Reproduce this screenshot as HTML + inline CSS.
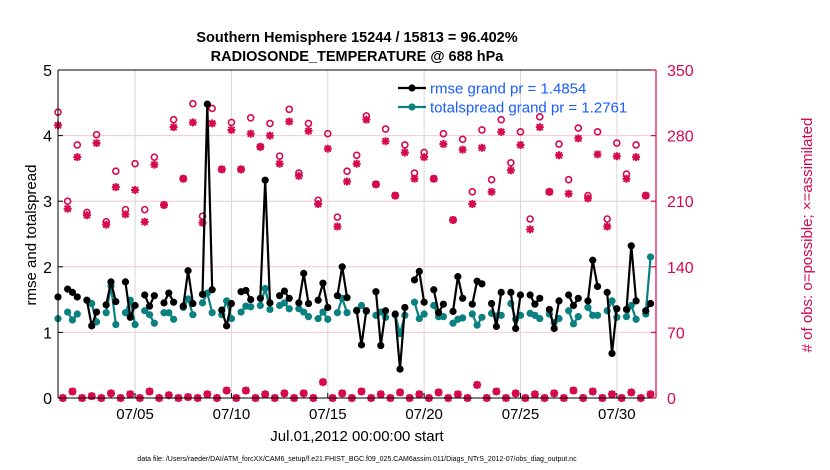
<!DOCTYPE html>
<html><head><meta charset="utf-8"><style>
body{margin:0;background:#fff;}
svg{display:block;font-family:"Liberation Sans",Arial,sans-serif;}
</style></head><body>
<svg id="chart" width="830" height="470" viewBox="0 0 830 470">
<rect x="0" y="0" width="830" height="470" fill="#fff"/>
<text x="357" y="42" text-anchor="middle" font-size="14.5" font-weight="bold">Southern Hemisphere 15244 / 15813 = 96.402%</text>
<text x="357" y="61" text-anchor="middle" font-size="14.5" font-weight="bold">RADIOSONDE_TEMPERATURE @ 688 hPa</text>
<g id="grid"></g>
<g id="marks"></g>
<g id="axes"></g>
<text transform="translate(36,235) rotate(-90)" text-anchor="middle" font-size="15">rmse and totalspread</text>
<text transform="translate(812,235) rotate(-90)" text-anchor="middle" font-size="15" fill="#d6084f"># of obs: o=possible; ×=assimilated</text>
<text x="357" y="441" text-anchor="middle" font-size="15">Jul.01,2012 00:00:00 start</text>
<text x="357" y="461" text-anchor="middle" font-size="7">data file: /Users/raeder/DAI/ATM_forcXX/CAM6_setup/f.e21.FHIST_BGC.f09_025.CAM6assim.011/Diags_NTrS_2012-07/obs_diag_output.nc</text>
<g id="legend"></g>
</svg>
<script>
// ---- data ----
const xTickLabels = ["07/05","07/10","07/15","07/20","07/25","07/30"];
const xTickDays = [4,9,14,19,24,29];
const yLeftTicks = [0,1,2,3,4,5];
const yRightTicks = [0,70,140,210,280,350];
const rmse = [1.54,null,1.66,1.61,1.54,null,1.49,1.10,1.31,null,1.42,1.77,1.47,null,1.77,1.23,1.41,null,1.57,1.40,1.56,null,1.45,1.60,1.46,null,1.40,1.94,1.44,null,1.58,4.48,1.65,null,1.34,1.10,1.44,null,1.62,1.64,1.50,null,1.52,3.32,1.45,null,1.56,1.63,1.52,null,1.45,1.90,1.44,null,1.49,1.75,1.38,null,1.56,2.00,1.53,null,1.33,0.81,1.33,null,1.62,0.80,1.33,null,1.28,0.44,1.38,null,1.80,1.93,1.46,null,1.65,1.30,1.43,null,1.32,1.85,1.52,null,1.43,1.78,1.74,null,1.44,1.09,1.61,null,1.61,1.06,1.57,null,1.57,1.43,1.52,null,1.35,1.06,1.48,null,1.57,1.41,1.52,null,1.48,2.10,1.70,null,1.61,0.68,1.36,null,1.35,2.32,1.48,null,1.33,1.44];
const spread = [1.21,null,1.31,1.19,1.28,null,1.49,1.44,1.16,null,1.30,1.71,1.12,null,1.30,1.49,1.12,null,1.33,1.27,1.14,null,1.30,1.30,1.20,null,1.38,1.51,1.27,null,1.45,1.60,1.30,null,1.27,1.48,1.21,null,1.31,1.40,1.39,null,1.41,1.67,1.35,null,1.41,1.45,1.36,null,1.36,1.31,1.24,null,1.21,1.31,1.20,null,1.30,1.52,1.30,null,1.34,1.41,1.32,null,1.26,1.31,1.23,null,1.27,0.98,1.26,null,1.46,1.21,1.28,null,1.41,1.24,1.24,null,1.14,1.20,1.22,null,1.28,1.11,1.23,null,1.29,1.25,1.26,null,1.44,1.20,1.26,null,1.29,1.26,1.21,null,1.28,1.15,1.21,null,1.33,1.13,1.24,null,1.38,1.26,1.26,null,1.33,1.48,1.23,null,1.24,1.41,1.20,null,1.28,2.15];
const possibleMain = [305,210,270,198,281,188,242,201,250,201,257,206,297,234,314,194,309,244,294,244,299,268,293,258,308,240,293,211,282,193,242,259,301,228,287,216,270,240,262,234,282,190,276,220,286,233,297,251,284,191,300,220,271,233,288,216,284,191,272,239,270,216];
const assimMain = [291,202,257,195,272,185,225,196,222,188,249,206,289,234,294,187,293,244,286,244,282,268,280,250,295,237,285,207,266,183,231,250,297,228,274,216,262,234,257,234,271,190,265,207,267,220,284,243,270,180,289,220,259,218,277,213,260,183,258,234,257,216];
const lowCounts = [0,7,0,2,0,5,0,4,0,7,0,3,0,1,0,4,0,8,0,8,0,4,0,5,0,5,0,17,0,5,0,7,0,4,0,6,0,4,0,6,0,4,0,14,0,7,0,5,0,4,0,5,0,8,0,7,0,4,0,6,0,4];

// ---- scales ----
const L=58, R=656, T=70, B=398;
const pxPerDay=19.27;
const xDay = d => L + d*pxPerDay;
const xBin = j => xDay(j*0.25);
const yL = v => B - v/5*(B-T);
const yR = v => B - v/350*(B-T);
const NS="http://www.w3.org/2000/svg";
function mk(tag, attrs, parent){const e=document.createElementNS(NS,tag);for(const k in attrs)e.setAttribute(k,attrs[k]);parent.appendChild(e);return e;}
const grid=document.getElementById('grid'), marks=document.getElementById('marks'), axes=document.getElementById('axes'), legend=document.getElementById('legend');
const RED="#d6084f", TEAL="#0a8080";

xTickDays.forEach((d,i)=>{
  const g=mk('line',{x1:xDay(d),x2:xDay(d),y1:T,y2:B,stroke:"#d8d8d8","stroke-width":1},grid);
  
  
});
yRightTicks.forEach(v=>{
  if(v===0||v===350)return;
  const g=mk('line',{x1:L,x2:R,y1:yR(v),y2:yR(v),stroke:"#f0c8d6","stroke-width":1},grid);
  
  
});

const possible=[], assim=[];
for(let k=0;k<possibleMain.length;k++){possible.push(possibleMain[k]);assim.push(assimMain[k]);possible.push(lowCounts[k]);assim.push(lowCounts[k]);}

possible.forEach((v,j)=>{
  const c=mk('circle',{cx:xBin(j),cy:yR(v),r:3,fill:"none",stroke:RED,"stroke-width":1.6},marks);
  
  
});
assim.forEach((v,j)=>{
  const x=xBin(j), y=yR(v), s=4;
  const p=mk('path',{d:`M${x-s},${y}H${x+s}M${x},${y-s}V${y+s}M${x-3},${y-3}L${x+3},${y+3}M${x-3},${y+3}L${x+3},${y-3}`,stroke:RED,"stroke-width":2,fill:"none"},marks);
  
  
});

function series(arr,color,name){
  let d="";let pen=false;
  arr.forEach((v,j)=>{ if(v===null){pen=false;return;} d+=(pen?"L":"M")+xBin(j).toFixed(1)+","+yL(v).toFixed(1); pen=true;});
  const p=mk('path',{d:d,stroke:color,"stroke-width":2.2,fill:"none","stroke-linejoin":"round"},marks);
  
  
  arr.forEach((v,j)=>{ if(v===null)return;
    const c=mk('circle',{cx:xBin(j),cy:yL(v),r:3.6,fill:color},marks);
    
    
  });
}
series(spread,TEAL,'totalspread');
series(rmse,"#000",'rmse');

mk('line',{x1:L,x2:R,y1:T,y2:T,stroke:"#000","stroke-width":1},axes);
mk('line',{x1:L,x2:R,y1:B,y2:B,stroke:"#000","stroke-width":1},axes);
mk('line',{x1:L,x2:L,y1:T,y2:B,stroke:"#000","stroke-width":1},axes);
mk('line',{x1:R,x2:R,y1:T,y2:B,stroke:RED,"stroke-width":1.2},axes);
yLeftTicks.forEach(v=>{
  mk('line',{x1:L,x2:L+5,y1:yL(v),y2:yL(v),stroke:"#000"},axes);
  const t=mk('text',{x:L-6,y:yL(v)+6,"text-anchor":"end","font-size":16},axes);
  t.textContent=v;
  
  
});
yRightTicks.forEach(v=>{
  mk('line',{x1:R-5,x2:R,y1:yR(v),y2:yR(v),stroke:RED,"stroke-width":1.2},axes);
  const t=mk('text',{x:R+11,y:yR(v)+6,"font-size":16,fill:RED},axes);
  t.textContent=v;
  
  
});
xTickDays.forEach((d,i)=>{
  mk('line',{x1:xDay(d),x2:xDay(d),y1:B,y2:B-5,stroke:"#000"},axes);
  const t=mk('text',{x:xDay(d),y:B+21,"text-anchor":"middle","font-size":15},axes);
  t.textContent=xTickLabels[i];
  
  
});

[["rmse grand pr = 1.4854","#000",88],["totalspread grand pr = 1.2761",TEAL,107]].forEach(([lab,col,y])=>{
  const l=mk('line',{x1:398,x2:426,y1:y,y2:y,stroke:col,"stroke-width":2.2},legend);
  
  
  mk('circle',{cx:412,cy:y,r:3.6,fill:col},legend);
  const t=mk('text',{x:430,y:y+5.5,"font-size":15,fill:"#1a5cff"},legend);
  t.textContent=lab;
  
  
});
</script>
</body></html>
